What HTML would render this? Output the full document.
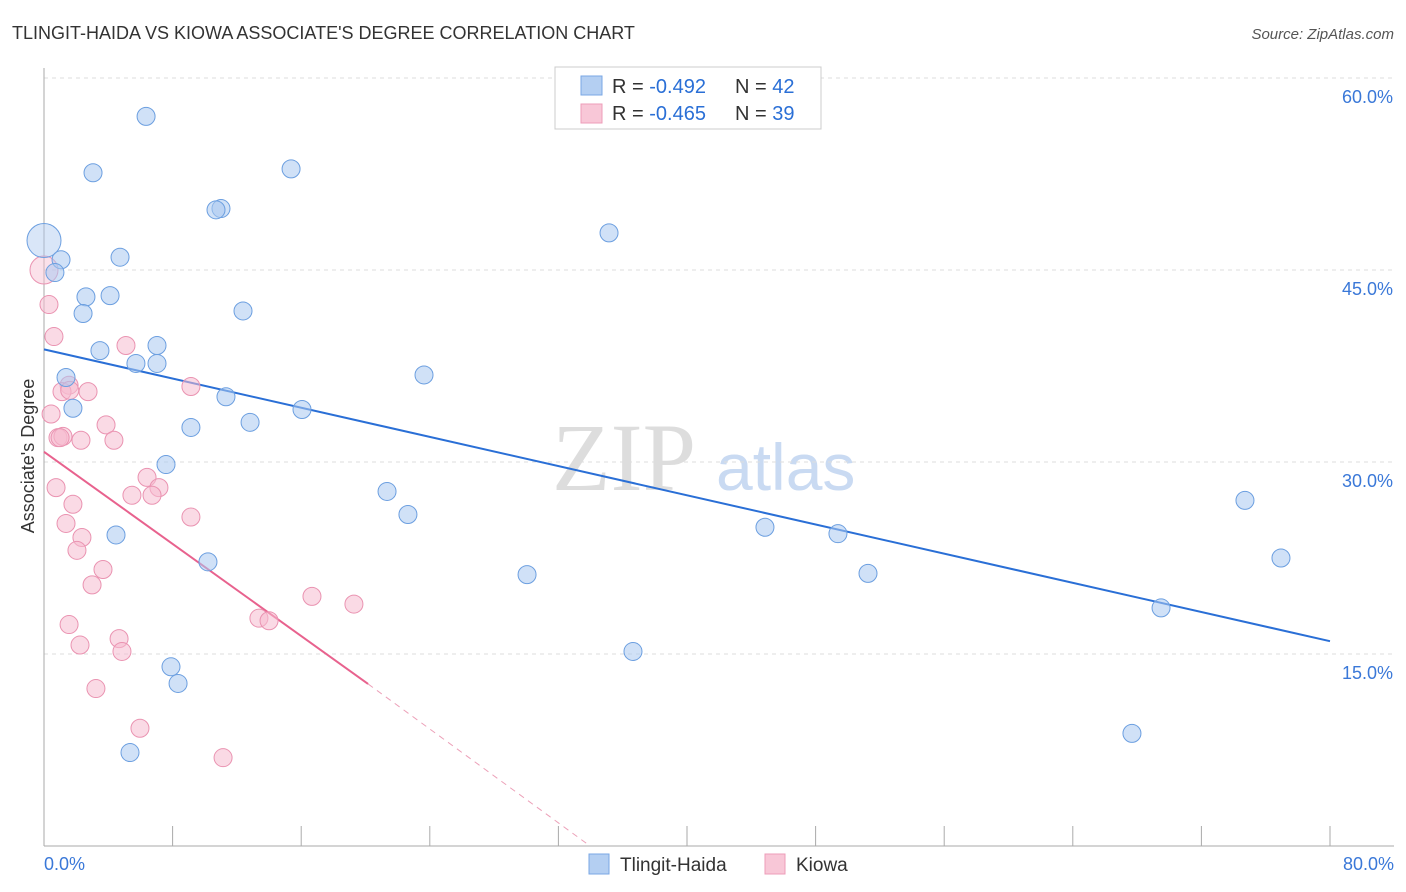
<!DOCTYPE html>
<html><head><meta charset="utf-8">
<style>
body{margin:0;background:#fff;font-family:"Liberation Sans",sans-serif;}
#wrap{position:relative;width:1406px;height:892px;overflow:hidden;}
</style></head>
<body>
<div id="wrap">
<svg id="svg" width="1406" height="892" xmlns="http://www.w3.org/2000/svg">
<text x="12" y="39" font-size="18" fill="#333">TLINGIT-HAIDA VS KIOWA ASSOCIATE'S DEGREE CORRELATION CHART</text>
<text x="1394" y="39" font-size="15" fill="#555" text-anchor="end" font-style="italic">Source: ZipAtlas.com</text>
<text x="34" y="456" font-size="18" fill="#333" text-anchor="middle" transform="rotate(-90 34 456)">Associate's Degree</text>
<g><text x="552" y="490" font-size="96" fill="#ddd" font-family="Liberation Serif,serif">ZIP</text><text x="716" y="490" font-size="66" fill="#c9daf2">atlas</text></g>
<g id="grid"></g><g id="axes"></g><g id="trend"></g><g id="pts"></g>
<g>
<rect x="555" y="67" width="266" height="62" fill="#fff" stroke="#ccc"/>
<rect x="581" y="76" width="21" height="19" fill="#b4cff2" stroke="#7aa7e4"/>
<rect x="581" y="104" width="21" height="19" fill="#f8c7d7" stroke="#ee9cb8"/>
<text x="612" y="93" font-size="20" fill="#333">R = <tspan fill="#2a6fd6">-0.492</tspan></text>
<text x="735" y="93" font-size="20" fill="#333">N = <tspan fill="#2a6fd6">42</tspan></text>
<text x="612" y="120" font-size="20" fill="#333">R = <tspan fill="#2a6fd6">-0.465</tspan></text>
<text x="735" y="120" font-size="20" fill="#333">N = <tspan fill="#2a6fd6">39</tspan></text>
</g>
<g>
<rect x="589" y="854" width="20" height="20" fill="#b4cff2" stroke="#7aa7e4"/>
<text x="620" y="871" font-size="19" fill="#333">Tlingit-Haida</text>
<rect x="765" y="854" width="20" height="20" fill="#f8c7d7" stroke="#ee9cb8"/>
<text x="796" y="871" font-size="19" fill="#333">Kiowa</text>
</g>
</svg>
</div>
<script>
const yTicks=[15,30,45,60];
const xTickCount=10;
const blueX=[0,1.06,0.68,6.35,3.05,15.37,11.01,10.70,4.73,2.61,4.11,2.43,12.38,3.48,7.03,5.72,7.03,1.37,1.80,11.32,16.05,12.82,9.14,7.59,23.64,35.15,21.34,22.64,4.48,10.20,30.05,44.85,49.39,51.26,74.71,76.95,69.49,36.64,7.90,8.34,5.35,67.68];
const blueY=[47.3,45.8,44.8,57.0,52.6,52.9,49.8,49.7,46.0,42.9,43.0,41.6,41.8,38.7,39.1,37.7,37.7,36.6,34.2,35.1,34.1,33.1,32.7,29.8,36.8,47.9,27.7,25.9,24.3,22.2,21.2,24.9,24.4,21.3,27.0,22.5,18.6,15.2,14.0,12.7,7.3,8.8];
const pinkX=[0,0.31,0.62,0.44,5.10,1.56,1.12,2.74,9.14,3.86,0.87,1.18,2.30,4.35,0.75,6.41,7.15,5.47,6.72,1.80,9.14,1.37,2.36,2.05,3.67,2.99,16.67,19.28,13.37,14.0,1.56,2.24,4.67,4.85,3.23,5.97,11.14,1.6,1.0];
const pinkY=[45.0,42.3,39.8,33.75,39.1,36.0,35.5,35.5,35.9,32.9,31.9,32.0,31.7,31.7,28.0,28.8,28.0,27.4,27.4,26.7,25.7,25.2,24.1,23.1,21.6,20.4,19.5,18.9,17.8,17.6,17.3,15.7,16.2,15.2,12.3,9.2,6.9,35.6,31.9];
const blueTrend=[[0,38.8],[80,16.0]];
const pinkTrend=[[0,30.8],[20.16,12.66]];
const pinkDash=[[20.16,12.66],[33.97,0]];
const X=v=>44+v*(1286/80);
const Y=v=>846-v*12.8;
const NS="http://www.w3.org/2000/svg";
function mk(tag,attrs,parent){const e=document.createElementNS(NS,tag);for(const k in attrs)e.setAttribute(k,attrs[k]);document.getElementById(parent).appendChild(e);return e;}
yTicks.forEach(t=>{
 const l=mk('line',{x1:44,x2:1394,y1:Y(t),y2:Y(t),stroke:'#ddd','stroke-dasharray':'4 4'},'grid');
 
 
 const tx=mk('text',{x:1393,y:Y(t)+25,'font-size':18,fill:'#3a78d8','text-anchor':'end'},'grid');
 tx.textContent=t.toFixed(1)+'%';
 
 
});
mk('line',{x1:44,x2:44,y1:68,y2:846,stroke:'#aaa'},'axes');
mk('line',{x1:44,x2:1394,y1:846,y2:846,stroke:'#aaa'},'axes');
for(let i=0;i<=xTickCount;i++){const t=mk('line',{x1:X(i*8),x2:X(i*8),y1:826,y2:846,stroke:'#aaa'},'axes');
 
 }
let a=mk('text',{x:44,y:870,'font-size':18,fill:'#3a78d8'},'axes');a.textContent='0.0%';


a=mk('text',{x:1394,y:870,'font-size':18,fill:'#3a78d8','text-anchor':'end'},'axes');a.textContent='80.0%';


function line(p,col,w,dash,name){const l=mk('line',{x1:X(p[0][0]),y1:Y(p[0][1]),x2:X(p[1][0]),y2:Y(p[1][1]),stroke:col,'stroke-width':w},'trend');if(dash)l.setAttribute('stroke-dasharray',dash);
 
 }
line(blueTrend,'#2a6fd6',2,null,'tlingit-trend-line');
line(pinkTrend,'#e8628e',2,null,'kiowa-trend-line');
line(pinkDash,'#eca0b8',1,'6 5','kiowa-trend-extension');
function pts(xs,ys,fill,stroke,name){xs.forEach((x,i)=>{const r=(i===0)?(name==='tlingit-point'?17:14):9;
 const c=mk('circle',{cx:X(x),cy:Y(ys[i]),r:r,fill:fill,'fill-opacity':i===0?0.45:0.55,stroke:stroke,'stroke-width':1},'pts');
 
 });}
pts(pinkX,pinkY,'#f6bcd0','#ea93b1','kiowa-point');
pts(blueX,blueY,'#aac8f0','#6c9fe0','tlingit-point');
</script>
</body></html>
